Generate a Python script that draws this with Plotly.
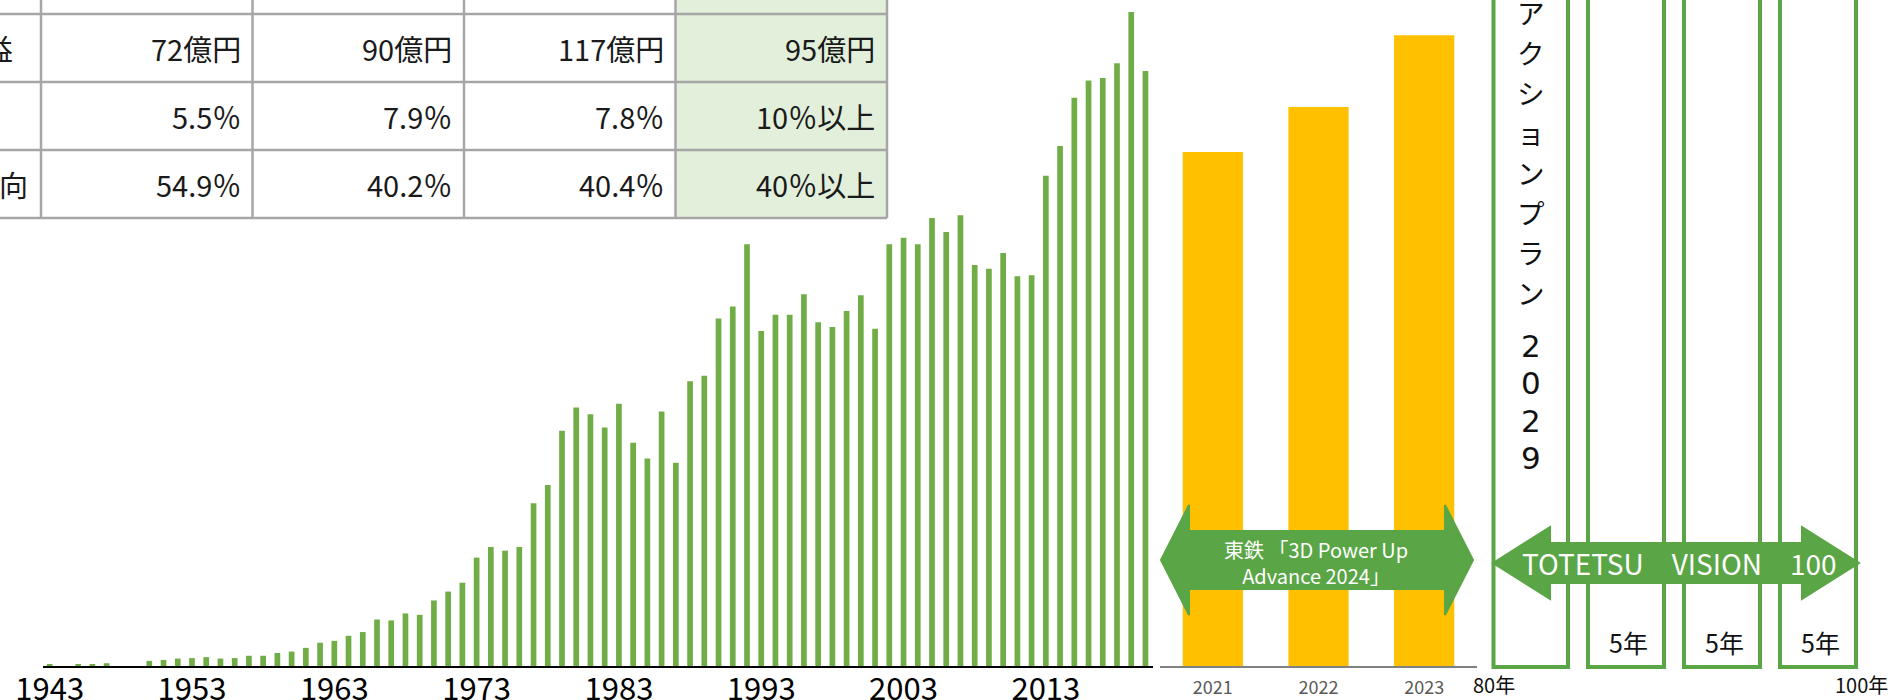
import plotly.graph_objects as go

W, H = 1890, 700

# ---------------- data ----------------
years = list(range(1943, 2021))
sales = [3, None, 3, 3, 6, None, None,
         11, 13, 16, 17, 19, 16, 17, 22, 22, 28,
         31, 39, 50, 54, 65, 73, 100, 98, 113, 110,
         141, 160, 179, 233, 256, 248, 256, 350, 389, 506,
         556, 541, 513, 564, 480, 446, 547, 437, 612, 624,
         747, 773, 907, 720, 755, 755, 799, 739, 729, 763,
         797, 725, 907, 921, 907, 963, 933, 969, 862, 854,
         888, 838, 840, 1054, 1118, 1222, 1259, 1264, 1296, 1406,
         1279]
tick_years = [1943, 1953, 1963, 1973, 1983, 1993, 2003, 2013]

plan_years = ["2021", "2022", "2023"]
plan_sales = [1105, 1202, 1356]

row_heads = ["益", "", "向"]
row_profit = ["72億円", "90億円", "117億円", "95億円"]
row_roe = ["5.5％", "7.9％", "7.8％", "10％以上"]
row_payout = ["54.9％", "40.2％", "40.4％", "40％以上"]

vision_blocks = ["", "5年", "5年", "5年"]
vertical_title = "アクションプラン"
vertical_year = "2029"

# ---------------- helpers ----------------
def fx(x):
    return x / W

def fy(y):
    return 1 - y / H

GREEN_BAR = "#70AD47"
GREEN_DARK = "#5AA545"
YELLOW = "#FFC000"
GRID = "#A6A6A6"
FONT = "Noto Sans CJK JP"

BASE = 666
YMAX = BASE * 2.15

fig = go.Figure()
fig.add_trace(go.Bar(x=years, y=sales, width=0.4, marker=dict(color=GREEN_BAR, line=dict(width=0)),
                     xaxis="x", yaxis="y", hoverinfo="x+y"))
fig.add_trace(go.Bar(x=plan_years, y=plan_sales, width=0.57,
                     marker=dict(color=YELLOW, line=dict(width=0)),
                     xaxis="x2", yaxis="y2", hoverinfo="x+y"))

shapes = []
annotations = []

def note(text, x, y, size, color="#111", xa="center", ya="middle", family=FONT, **kw):
    annotations.append(dict(text=text, x=fx(x), y=fy(y), xref="paper", yref="paper",
                            xanchor=xa, yanchor=ya, showarrow=False,
                            font=dict(family=family, size=size, color=color), **kw))

# ---------------- table ----------------
col_x = [41, 252.5, 464, 675.5, 887]
row_y = [14, 82, 150, 218]
shapes.append(dict(type="rect", xref="paper", yref="paper", x0=fx(col_x[3]), x1=fx(col_x[4]),
                   y0=fy(row_y[-1]), y1=fy(0), fillcolor="#E2EFDA", line=dict(width=0), layer="below"))
for x in col_x:
    shapes.append(dict(type="line", xref="paper", yref="paper", x0=fx(x), x1=fx(x),
                       y0=fy(0), y1=fy(row_y[-1]), line=dict(color=GRID, width=2.5)))
for y in row_y:
    shapes.append(dict(type="line", xref="paper", yref="paper", x0=0, x1=fx(col_x[-1]),
                       y0=fy(y), y1=fy(y), line=dict(color=GRID, width=2.5)))

rows = [row_profit, row_roe, row_payout]
head_right = [15, 15, 30]
for r, vals in enumerate(rows):
    yc = (row_y[r] + row_y[r + 1]) / 2
    if row_heads[r]:
        note(row_heads[r], head_right[r], yc, 29, "#1a1a1a", xa="right")
    for c, v in enumerate(vals):
        note(v, col_x[c + 1] - 10, yc, 29, "#1a1a1a", xa="right")

# ---------------- arrows ----------------
def double_arrow(x0, x1, yc, head_len, head_half, shaft_half):
    pts = [(x0, yc), (x0 + head_len, yc - head_half), (x0 + head_len, yc - shaft_half),
           (x1 - head_len, yc - shaft_half), (x1 - head_len, yc - head_half), (x1, yc),
           (x1 - head_len, yc + head_half), (x1 - head_len, yc + shaft_half),
           (x0 + head_len, yc + shaft_half), (x0 + head_len, yc + head_half)]
    path = "M " + " L ".join(f"{fx(px):.5f},{fy(py):.5f}" for px, py in pts) + " Z"
    return dict(type="path", xref="paper", yref="paper", path=path, fillcolor=GREEN_DARK,
                line=dict(color=GREEN_DARK, width=2), layer="above")

# vision boxes
box_x = [(1493.5, 1568), (1588, 1664), (1684, 1760), (1780, 1856)]
for (a, b), lab in zip(box_x, vision_blocks):
    shapes.append(dict(type="rect", xref="paper", yref="paper", x0=fx(a), x1=fx(b), y0=fy(667), y1=fy(-20),
                       line=dict(color=GREEN_DARK, width=4), fillcolor="rgba(0,0,0,0)", layer="above"))
    if lab:
        note(lab, (a + b) / 2 + 2, 642, 25)

shapes.append(double_arrow(1161, 1473, 560, 28, 55, 29))
shapes.append(double_arrow(1493, 1859, 563, 57, 36, 20))

note("東鉄 「3D Power Up<br>Advance 2024」", 1316, 562, 20, "white", align="center")
note("TOTETSU\u3000VISION\u3000100", 1679, 563, 28, "white")

note("80年", 1494, 684, 20)
note("100年", 1861, 684, 20)

# vertical text, one character per position
for i, ch in enumerate(vertical_title):
    note(ch, 1531, 12 + 40 * i, 27.5)
for j, ch in enumerate(vertical_year):
    note(ch, 1531, 346 + 37.3 * j, 31, family="DejaVu Sans")

fig.update_layout(
    width=W, height=H,
    margin=dict(l=0, r=0, t=0, b=0, pad=0),
    paper_bgcolor="white", plot_bgcolor="rgba(0,0,0,0)",
    showlegend=False,
    xaxis=dict(domain=[fx(43), fx(1153)], range=[1942.53, 2020.53], tickvals=tick_years,
               ticktext=[str(t) for t in tick_years], showgrid=False, zeroline=False,
               showline=True, linecolor="black", linewidth=2, ticks="", automargin=False,
               ticklabelstandoff=-5,
               tickfont=dict(family=FONT, size=31, color="black")),
    yaxis=dict(domain=[fy(BASE), 1], range=[0, YMAX], visible=False),
    xaxis2=dict(domain=[fx(1160), fx(1477)], anchor="y2", type="category", showgrid=False,
                zeroline=False, showline=True, linecolor="#808080", linewidth=2, ticks="",
                automargin=False, ticklabelstandoff=4,
                tickfont=dict(family=FONT, size=18, color="#595959")),
    yaxis2=dict(domain=[fy(BASE), 1], range=[0, YMAX], visible=False, anchor="x2"),
    shapes=shapes,
    annotations=annotations,
)

fig.write_html("out.html", config={"displayModeBar": False},
               post_script="document.body.style.margin='0px';document.body.style.overflow='hidden';")
